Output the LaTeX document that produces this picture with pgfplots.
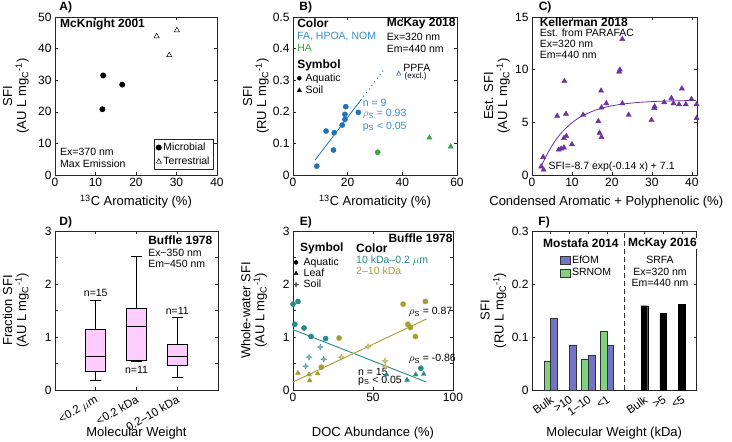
\documentclass[border=0pt]{standalone}
\usepackage{fontspec}
\setmainfont{Liberation Sans}
\usepackage{pgfplots}
\pgfplotsset{compat=1.18}
\usepgfplotslibrary{statistics}

\definecolor{axgray}{gray}{0.15}
\definecolor{bluePt}{rgb}{0.13,0.45,0.72}
\definecolor{blueTx}{rgb}{0.22,0.55,0.80}
\definecolor{greenPt}{rgb}{0.22,0.65,0.27}
\definecolor{purpleC}{rgb}{0.42,0.20,0.62}
\definecolor{pinkD}{rgb}{1.0,0.80,1.0}
\definecolor{tealE}{rgb}{0.16,0.54,0.54}
\definecolor{oliveE}{rgb}{0.65,0.62,0.18}
\definecolor{efom}{rgb}{0.45,0.45,0.78}
\definecolor{srnom}{rgb}{0.50,0.82,0.50}

\newcommand{\fa}{\fontsize{10.5}{11.5}\selectfont}
\newcommand{\fb}{\fontsize{12}{13}\selectfont\bfseries}
\newcommand{\unitlab}[1]{(#1 L mg\textsubscript{C}\textsuperscript{-1})}

\pgfdeclareplotmark{sparkle}{%
  \pgfpathmoveto{\pgfqpoint{0pt}{\pgfplotmarksize}}%
  \pgfpathlineto{\pgfqpoint{0.28\pgfplotmarksize}{0.28\pgfplotmarksize}}%
  \pgfpathlineto{\pgfqpoint{\pgfplotmarksize}{0pt}}%
  \pgfpathlineto{\pgfqpoint{0.28\pgfplotmarksize}{-0.28\pgfplotmarksize}}%
  \pgfpathlineto{\pgfqpoint{0pt}{-\pgfplotmarksize}}%
  \pgfpathlineto{\pgfqpoint{-0.28\pgfplotmarksize}{-0.28\pgfplotmarksize}}%
  \pgfpathlineto{\pgfqpoint{-\pgfplotmarksize}{0pt}}%
  \pgfpathlineto{\pgfqpoint{-0.28\pgfplotmarksize}{0.28\pgfplotmarksize}}%
  \pgfpathclose\pgfusepathqfillstroke}

\tikzset{
  lbl/.style={anchor=west, inner sep=0pt, font=\fa},
  ttl/.style={anchor=west, inner sep=0pt, font=\fb},
  plab/.style={anchor=base west, inner sep=0pt, font=\fontsize{12}{13}\selectfont\bfseries},
}

\pgfplotsset{
  panel/.style={
    scale only axis, anchor=south west, clip=false,
    axis line style={axgray, line width=0.6pt},
    tick style={axgray, line width=0.5pt},
    major tick length=3pt,
    tick label style={font=\fontsize{12}{13}\selectfont},
    label style={font=\fontsize{13}{14}\selectfont},
    ylabel style={align=center, anchor=center},
    /pgf/number format/assume math mode=true,
    /pgf/number format/fixed,
    scaled ticks=false,
    legend cell align=left,
  },
  toprow/.style={xlabel style={at={(axis description cs:0.5,-0.169)}, anchor=center}},
  botrow/.style={xlabel style={at={(axis description cs:0.5,-0.272)}, anchor=center}},
}

\begin{document}
\begin{tikzpicture}
\path[use as bounding box] (0pt,0pt) rectangle (732pt,442pt);

% ---------------- A ----------------
\begin{axis}[panel, toprow, at={(55pt,267pt)}, width=162pt, height=158pt,
  xmin=0, xmax=40, ymin=0, ymax=50,
  xtick={0,10,20,30,40}, ytick={0,10,20,30,40,50},
  xlabel={\textsuperscript{13}C Aromaticity (\%)},
  ylabel={SFI\\\unitlab{AU}},
  ylabel style={at={(axis description cs:-0.241,0.5)}},
  legend style={at={(axis description cs:0.977,0.032)}, anchor=south east,
    draw=axgray, line width=0.5pt, font=\fa, inner sep=1.5pt, row sep=1pt},
  legend image code/.code={\draw[#1] plot coordinates {(0.12cm,0cm)};}]
\addplot[only marks, mark=*, mark size=2.7pt, black] coordinates {(11.7,20.8) (11.9,31.5) (16.6,28.6)};
\addlegendentry{Microbial}
\addplot[only marks, mark=triangle, mark size=3pt, black, line width=0.5pt] coordinates {(25.1,43.9) (28.2,37.9) (30.1,45.8)};
\addlegendentry{Terrestrial}
\node[ttl] at (axis description cs:0.031,0.956) {McKnight 2001};
\node[lbl] at (axis description cs:0.031,0.147) {Ex=370 nm};
\node[lbl] at (axis description cs:0.031,0.074) {Max Emission};
\node[plab] at (axis description cs:0.026,1.04) {A)};
\end{axis}

% ---------------- B ----------------
\begin{axis}[panel, toprow, at={(293pt,267pt)}, width=164pt, height=158pt,
  xmin=0, xmax=60, ymin=0, ymax=0.5,
  xtick={0,20,40,60}, ytick={0,0.1,0.2,0.3,0.4,0.5},
  xlabel={\textsuperscript{13}C Aromaticity (\%)},
  ylabel={SFI\\\unitlab{RU}},
  ylabel style={at={(axis description cs:-0.226,0.5)}},
  legend style={at={(axis description cs:0.02,0.655)}, anchor=north west,
    draw=none, fill=none, font=\fa, inner sep=0pt, row sep=-1pt},
  legend image code/.code={\draw[#1] plot coordinates {(0.1cm,0cm)}; \path[draw=none,fill=none] (0cm,0cm) rectangle (0.25cm,0.01cm);}]
\addlegendimage{only marks, mark=*, black, mark size=2pt}
\addlegendentry{Aquatic}
\addlegendimage{only marks, mark=triangle*, black, mark size=2.4pt}
\addlegendentry{Soil}
\addplot[bluePt, line width=0.8pt] coordinates {(8.05,0.047) (24.8,0.237)};
\addplot[bluePt, line width=1pt, dash pattern=on 1pt off 3.5pt] coordinates {(24.8,0.237) (33.7,0.338)};
\addplot[only marks, mark=*, mark size=2.6pt, bluePt] coordinates {
 (8.7,0.028) (12.1,0.139) (14.8,0.079) (15.1,0.134) (18.0,0.158)
 (19.0,0.176) (19.0,0.192) (19.3,0.216) (23.9,0.198)};
\addplot[only marks, mark=*, mark size=2.6pt, greenPt] coordinates {(31.0,0.072)};
\addplot[only marks, mark=triangle*, mark size=3pt, greenPt] coordinates {(49.9,0.118) (57.7,0.090)};
\addplot[only marks, mark=triangle, mark size=2.6pt, bluePt, line width=0.6pt] coordinates {(38.7,0.32)};
\node[ttl] at (axis description cs:0.025,0.96) {Color};
\node[lbl, text=blueTx] at (axis description cs:0.025,0.875) {FA, HPOA, NOM};
\node[lbl, text=greenPt] at (axis description cs:0.025,0.806) {HA};
\node[ttl] at (axis description cs:0.025,0.692) {Symbol};
\node[ttl] at (axis description cs:0.571,0.96) {McKay 2018};
\node[lbl] at (axis description cs:0.571,0.875) {Ex=320 nm};
\node[lbl] at (axis description cs:0.571,0.80) {Em=440 nm};
\node[lbl] at (axis description cs:0.672,0.675) {PPFA};
\node[lbl, font=\fontsize{8}{9}\selectfont] at (axis description cs:0.68,0.622) {(excl.)};
\node[lbl, text=blueTx] at (axis description cs:0.425,0.454) {n = 9};
\node[lbl, text=blueTx] at (axis description cs:0.425,0.385) {$\rho$\textsubscript{S} = 0.93};
\node[lbl, text=blueTx] at (axis description cs:0.425,0.306) {p\textsubscript{S} < 0.05};
\node[plab] at (axis description cs:0.038,1.04) {B)};
\end{axis}

% ---------------- C ----------------
\begin{axis}[panel, toprow, at={(532pt,267pt)}, width=165pt, height=158pt,
  xmin=0, xmax=41.3, ymin=0, ymax=15,
  xtick={0,10,20,30,40}, ytick={0,5,10,15},
  xlabel={Condensed Aromatic + Polyphenolic (\%)},
  xlabel style={at={(axis description cs:0.45,-0.169)}},
  ylabel={Est. SFI\\\unitlab{AU}},
  ylabel style={at={(axis description cs:-0.212,0.5)}}]
\addplot[purpleC, line width=0.8pt, smooth] coordinates {
 (2.5,0.97) (3,1.38) (4,2.13) (5,2.78) (6,3.34) (7,3.84) (8,4.26) (10,4.96)
 (12,5.48) (14,5.87) (16,6.17) (18,6.40) (20,6.57) (23,6.75) (26,6.87)
 (30,6.97) (35,7.04) (41,7.07)};
\addplot[only marks, mark=triangle*, mark size=3pt, purpleC] coordinates {
 (2.3,0.8) (2.9,0.5) (2.8,1.7) (6.3,5.6) (8.1,8.9) (8.5,5.8) (6.7,2.4)
 (7.3,2.5) (8.0,2.6) (8.0,3.5) (8.6,3.7) (10.0,2.9) (12.8,5.7) (16.6,5.1)
 (16.9,4.0) (17.4,3.6) (17.3,8.0) (17.4,6.4) (18.6,6.8) (21.8,9.8)
 (22.0,10.0) (22.6,12.9) (22.6,6.8) (24.2,5.7) (29.9,5.2) (30.7,6.5)
 (30.6,6.35) (33.1,6.9) (34.9,7.3) (35.4,6.8) (36.8,6.7) (37.5,8.2)
 (38.5,6.7) (39.9,7.2) (41.2,6.7) (41.2,5.4)};
\node[ttl] at (axis description cs:0.046,0.965) {Kellerman 2018};
\node[lbl] at (axis description cs:0.046,0.898) {Est. from PARAFAC};
\node[lbl] at (axis description cs:0.046,0.83) {Ex=320 nm};
\node[lbl] at (axis description cs:0.046,0.763) {Em=440 nm};
\node[lbl] at (axis description cs:0.099,0.055) {SFI=-8.7 exp(-0.14 x) + 7.1};
\node[plab] at (axis description cs:0.04,1.04) {C)};
\end{axis}

% ---------------- D ----------------
\begin{axis}[panel, botrow, at={(55pt,52pt)}, width=163pt, height=159pt,
  xmin=0, xmax=4, ymin=0, ymax=3,
  boxplot/draw direction=y,
  xtick={1,2,3}, xticklabels={{<0.2 $\mu$m},{<0.2 kDa},{0.2--10 kDa}},
  x tick label style={rotate=30, anchor=north east, font=\fontsize{11.5}{12}\selectfont},
  ytick={0,0.5,1,1.5,2,2.5,3}, yticklabels={0,,1,,2,,3},
  xlabel={Molecular Weight},
  ylabel={Fraction SFI\\\unitlab{AU}},
  ylabel style={at={(axis description cs:-0.241,0.5)}}]
\addplot[black, line width=1.1pt, boxplot/every box/.style={fill=pinkD, draw=black},
  boxplot prepared={draw position=1, median=0.64, upper quartile=1.14, lower quartile=0.35,
  upper whisker=1.69, lower whisker=0.175, box extend=0.5, whisker extend=0.27}] coordinates {};
\addplot[black, line width=1.1pt, boxplot/every box/.style={fill=pinkD, draw=black},
  boxplot prepared={draw position=2, median=1.19, upper quartile=1.54, lower quartile=0.565,
  upper whisker=2.52, lower whisker=0.535, box extend=0.5, whisker extend=0.27}] coordinates {};
\addplot[black, line width=1.1pt, boxplot/every box/.style={fill=pinkD, draw=black},
  boxplot prepared={draw position=3, median=0.64, upper quartile=0.86, lower quartile=0.47,
  upper whisker=1.36, lower whisker=0.24, box extend=0.5, whisker extend=0.27}] coordinates {};
\node[font=\fa, inner sep=0pt] at (axis cs:1,1.83) {n=15};
\node[font=\fa, inner sep=0pt] at (axis cs:2,0.375) {n=11};
\node[font=\fa, inner sep=0pt] at (axis cs:3,1.5) {n=11};
\node[ttl] at (axis description cs:0.571,0.944) {Buffle 1978};
\node[lbl] at (axis description cs:0.571,0.865) {Ex\textasciitilde350 nm};
\node[lbl] at (axis description cs:0.571,0.794) {Em\textasciitilde450 nm};
\node[plab] at (axis description cs:0.026,1.035) {D)};
\end{axis}

% ---------------- E ----------------
\begin{axis}[panel, botrow, at={(293pt,52pt)}, width=160pt, height=159pt,
  xmin=0, xmax=100, ymin=0, ymax=3,
  xtick={0,50,100},
  ytick={0,0.5,1,1.5,2,2.5,3}, yticklabels={0,,1,,2,,3},
  xlabel={DOC Abundance (\%)},
  ylabel={Whole-water SFI\\\unitlab{AU}},
  ylabel style={at={(axis description cs:-0.244,0.5)}},
  legend style={at={(axis description cs:0.0,0.845)}, anchor=north west,
    draw=none, fill=none, font=\fa, inner sep=0pt, row sep=-2pt},
  legend image code/.code={\draw[#1] plot coordinates {(0.1cm,0cm)}; \path[draw=none,fill=none] (0cm,0cm) rectangle (0.3cm,0.01cm);}]
\addlegendimage{only marks, mark=*, black, mark size=2pt}
\addlegendentry{Aquatic}
\addlegendimage{only marks, mark=triangle*, black, mark size=2.4pt}
\addlegendentry{Leaf}
\addlegendimage{only marks, mark=sparkle, black!70, mark size=2.6pt, line width=0.3pt}
\addlegendentry{Soil}
\addplot[tealE, line width=0.9pt] coordinates {(0,1.14) (83.4,0.15)};
\addplot[oliveE, line width=0.9pt] coordinates {(0,0.15) (83.4,1.34)};
\addplot[only marks, mark=*, mark size=2.6pt, tealE] coordinates {
 (0,1.62) (3.1,1.67) (1.1,1.24) (6.9,1.17) (11.3,1.01) (20.4,0.97) (79.9,0.41)};
\addplot[only marks, mark=triangle*, mark size=2.8pt, tealE] coordinates {
 (58.4,0.29) (71.3,0.19) (76.7,0.29) (81.7,0.30)};
\addplot[only marks, mark=sparkle, mark size=3pt, draw=tealE, fill=tealE!55, line width=0.3pt] coordinates {
 (7.9,0.45) (10.0,0.62) (17.1,0.81) (19.2,0.58)};
\addplot[only marks, mark=*, mark size=2.6pt, oliveE] coordinates {
 (28.8,0.98) (17.7,0.43) (68.8,1.62) (82.7,1.67) (71.8,1.24) (73.4,1.18) (76.5,1.01)};
\addplot[only marks, mark=triangle*, mark size=2.8pt, oliveE] coordinates {
 (3.1,0.32) (10.0,0.29) (10.4,0.18) (15.4,0.31)};
\addplot[only marks, mark=sparkle, mark size=3pt, draw=oliveE, fill=oliveE!55, line width=0.3pt] coordinates {
 (30.2,0.62) (46.9,0.82) (57.5,0.55) (57.7,0.44)};
\node[ttl] at (axis description cs:0.596,0.953) {Buffle 1978};
\node[ttl] at (axis description cs:0.044,0.893) {Symbol};
\node[ttl] at (axis description cs:0.394,0.893) {Color};
\node[lbl, text=tealE] at (axis description cs:0.394,0.811) {10 kDa--0.2 $\mu$m};
\node[lbl, text=oliveE] at (axis description cs:0.394,0.748) {2--10 kDa};
\node[lbl] at (axis description cs:0.723,0.49) {$\rho$\textsubscript{S} = 0.87};
\node[lbl] at (axis description cs:0.723,0.195) {$\rho$\textsubscript{S} = -0.86};
\node[lbl] at (axis description cs:0.406,0.115) {n = 15};
\node[lbl] at (axis description cs:0.406,0.058) {p\textsubscript{S} < 0.05};
\node[plab] at (axis description cs:0.042,1.035) {E)};
\end{axis}

% ---------------- F ----------------
\begin{axis}[panel, botrow, at={(532pt,52pt)}, width=164.5pt, height=159pt,
  xmin=0, xmax=8.78, ymin=0, ymax=0.3,
  xtick={1,2,3,4,6,7,8}, xticklabels={Bulk,{>10},{1--10},{<1},Bulk,{>5},{<5}},
  x tick label style={rotate=35, anchor=north east, font=\fontsize{11.5}{12}\selectfont},
  ytick={0,0.1,0.2,0.3},
  xlabel={Molecular Weight (kDa)},
  ylabel={SFI\\\unitlab{RU}},
  ylabel style={at={(axis description cs:-0.234,0.5)}},
  legend style={at={(axis description cs:0.166,0.86)}, anchor=north west,
    draw=none, fill=none, font=\fa, inner sep=0pt, row sep=0pt},
  legend image code/.code={\draw[#1, line width=0.5pt] (0pt,-4pt) rectangle (10pt,4pt);}]
\addplot[ybar, bar width=0.35, bar shift=0.175, fill=efom, draw=black!80, line width=0.5pt] coordinates {
 (1,0.135) (2,0.085) (3,0.065) (4,0.084)};
\addlegendentry{EfOM}
\addplot[ybar, bar width=0.35, bar shift=-0.175, fill=srnom, draw=black!80, line width=0.5pt] coordinates {
 (1,0.054) (3,0.058) (4,0.111)};
\addlegendentry{SRNOM}
\addplot[ybar, bar width=0.35, bar shift=0, fill=black, draw=black] coordinates {
 (6,0.159) (7,0.144) (8,0.161)};
\addplot[black!80, line width=0.6pt, dash pattern=on 5pt off 3pt] coordinates {(4.95,0) (4.95,0.3)};
\node[font=\fb, inner sep=0pt] at (axis description cs:0.297,0.924) {Mostafa 2014};
\node[font=\fb, inner sep=0pt, fill=white] at (axis description cs:0.793,0.924) {McKay 2016};
\node[font=\fa, inner sep=0pt] at (axis description cs:0.778,0.818) {SRFA};
\node[font=\fa, inner sep=0pt] at (axis description cs:0.778,0.745) {Ex=320 nm};
\node[font=\fa, inner sep=0pt] at (axis description cs:0.778,0.671) {Em=440 nm};
\node[plab] at (axis description cs:0.038,1.035) {F)};
\end{axis}
\end{tikzpicture}
\end{document}
